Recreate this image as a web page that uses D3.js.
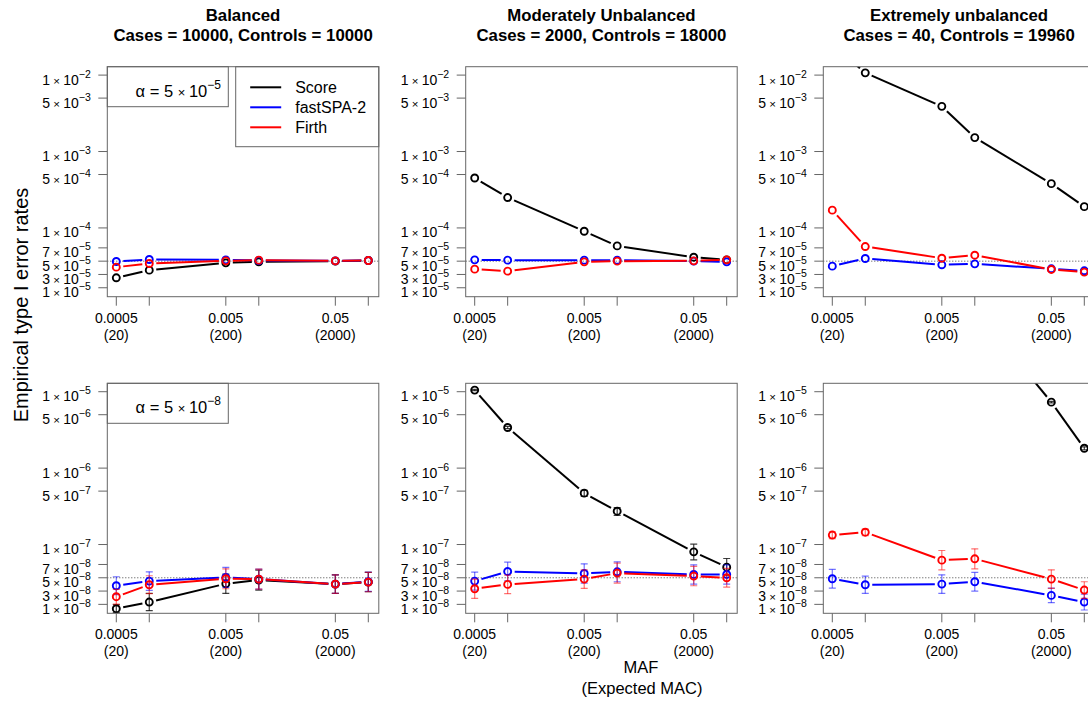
<!DOCTYPE html>
<html><head><meta charset="utf-8">
<script src="https://cdnjs.cloudflare.com/ajax/libs/d3/7.8.5/d3.min.js"></script>
<style>
html,body{margin:0;padding:0;background:#fff;}
text{font-family:"Liberation Sans",Arial,sans-serif;fill:#000;}
</style></head>
<body><svg id="chart" width="1088" height="702"></svg>
<script>
// ---------------- data ----------------
const maf = [0.0005, 0.001, 0.005, 0.01, 0.05, 0.1];
const mafLabels = ["0.0005", "", "0.005", "", "0.05", ""];
const macLabels = ["(20)", "", "(200)", "", "(2000)", ""];
const methods = ["Score", "fastSPA-2", "Firth"];
const methodColors = ["#000000", "#0000ff", "#ff0000"];
const errColors = ["rgba(0,0,0,0.75)", "rgba(0,0,255,0.55)", "rgba(255,0,0,0.55)"];
const titles = ["Balanced", "Moderately Unbalanced", "Extremely unbalanced"];
const subtitles = ["Cases = 10000, Controls = 10000", "Cases = 2000, Controls = 18000", "Cases = 40, Controls = 19960"];
const alphas = [5e-5, 5e-8];
const alphaExp = ["\u22125", "\u22128"];
const yTicksTop = [1e-2, 5e-3, 1e-3, 5e-4, 1e-4, 7e-5, 5e-5, 3e-5, 1e-5];
const yTicksBottom = [1e-5, 5e-6, 1e-6, 5e-7, 1e-7, 7e-8, 5e-8, 3e-8, 1e-8];

// alpha = 5e-5
const scoreBal5 = [2.5e-5, 3.65e-5, 4.75e-5, 4.9e-5, 5.0e-5, 5.1e-5];
const spaBal5   = [4.95e-5, 5.25e-5, 5.2e-5, 5.1e-5, 5.05e-5, 5.1e-5];
const firthBal5 = [4.1e-5, 4.65e-5, 5.05e-5, 5.15e-5, 5.05e-5, 5.1e-5];
const scoreMod5 = [4.5e-4, 2.5e-4, 9.5e-5, 7.3e-5, 5.6e-5, 5.2e-5];
const spaMod5   = [5.2e-5, 5.15e-5, 5.15e-5, 5.15e-5, 5.0e-5, 4.9e-5];
const firthMod5 = [3.8e-5, 3.5e-5, 4.9e-5, 5.0e-5, 5.05e-5, 5.2e-5];
const scoreExt5 = [2.5e-2, 1.07e-2, 3.9e-3, 1.52e-3, 3.8e-4, 1.9e-4];
const spaExt5   = [4.25e-5, 5.4e-5, 4.45e-5, 4.6e-5, 3.85e-5, 3.55e-5];
const firthExt5 = [1.71e-4, 7.2e-5, 5.45e-5, 5.9e-5, 3.75e-5, 3.35e-5];

// alpha = 5e-8
const scoreBal8 = [3.5e-9, 1.35e-8, 4.1e-8, 4.65e-8, 4.05e-8, 4.35e-8];
const spaBal8   = [3.8e-8, 4.5e-8, 5.05e-8, 4.8e-8, 4.05e-8, 4.4e-8];
const firthBal8 = [2.15e-8, 3.95e-8, 4.85e-8, 4.8e-8, 4.05e-8, 4.35e-8];
const scoreMod8 = [1.05e-5, 3.4e-6, 4.7e-7, 2.73e-7, 8.9e-8, 6.6e-8];
const spaMod8   = [4.5e-8, 5.95e-8, 5.65e-8, 5.9e-8, 5.5e-8, 5.5e-8];
const firthMod8 = [3.35e-8, 4.0e-8, 4.8e-8, 5.7e-8, 5.25e-8, 5.0e-8];
const scoreExt8 = [6e-4, 3.5e-4, 2e-4, 1.2e-4, 7.3e-6, 1.82e-6];
const spaExt8   = [4.85e-8, 3.95e-8, 4.05e-8, 4.4e-8, 2.35e-8, 1.35e-8];
const firthExt8 = [1.33e-7, 1.45e-7, 7.65e-8, 7.85e-8, 4.8e-8, 3.15e-8];

// error bar half-widths (alpha = 5e-8 row)
const errScoreBal8 = [0.6e-8, 1.3e-8, 1.45e-8, 1.5e-8, 1.4e-8, 1.45e-8];
const errSpaBal8   = [1.35e-8, 1.4e-8, 1.5e-8, 1.5e-8, 1.4e-8, 1.45e-8];
const errFirthBal8 = [1.1e-8, 1.35e-8, 1.5e-8, 1.5e-8, 1.4e-8, 1.45e-8];
const errScoreMod8 = [2.0e-7, 1.1e-7, 4.2e-8, 3.2e-8, 1.2e-8, 1.3e-8];
const errSpaMod8   = [1.35e-8, 1.4e-8, 1.45e-8, 1.5e-8, 1.45e-8, 1.45e-8];
const errFirthMod8 = [1.45e-8, 1.4e-8, 1.4e-8, 1.5e-8, 1.45e-8, 1.4e-8];
const errScoreExt8 = [1e-6, 8e-7, 5e-7, 4e-7, 1.7e-7, 8e-8];
const errSpaExt8   = [1.4e-8, 1.3e-8, 1.4e-8, 1.4e-8, 1.1e-8, 1.2e-8];
const errFirthExt8 = [1.4e-8, 1.4e-8, 1.45e-8, 1.5e-8, 1.4e-8, 1.25e-8];

const rowSeries = [
  [[scoreBal5, spaBal5, firthBal5], [scoreMod5, spaMod5, firthMod5], [scoreExt5, spaExt5, firthExt5]],
  [[scoreBal8, spaBal8, firthBal8], [scoreMod8, spaMod8, firthMod8], [scoreExt8, spaExt8, firthExt8]]
];
const rowErrors = [
  null,
  [[errScoreBal8, errSpaBal8, errFirthBal8], [errScoreMod8, errSpaMod8, errFirthMod8], [errScoreExt8, errSpaExt8, errFirthExt8]]
];

// ---------------- layout ----------------
const colLeft = [107.3, 465.7, 823.3];
const rowTop = [66.7, 383.3];
const boxW = 271.5, boxH = 230;
const K = 0.87;          // linear-part compression relative to one decade
const fTop = 2.11, fBottom = -0.9;

const svg = d3.select("#chart");
const defs = svg.append("defs");

function tf(v, T) { return v >= T ? Math.log10(v / T) : (v / T - 1) * K; }

rowSeries.forEach((panels, r) => {
  const alpha = alphas[r];
  const T = 2 * alpha;
  const ticks = r === 0 ? yTicksTop : yTicksBottom;
  panels.forEach((series, c) => {
    const x0 = colLeft[c], y0 = rowTop[r];
    const x = d3.scaleLog().domain([maf[0], maf[maf.length - 1]]).range([x0 + 9, x0 + boxW - 10.5]);
    const ys = d3.scaleLinear().domain([fBottom, fTop]).range([y0 + boxH, y0]);
    const y = v => ys(tf(v, T));
    const g = svg.append("g");
    const cid = `clip${r}${c}`;
    defs.append("clipPath").attr("id", cid).append("rect")
      .attr("x", x0).attr("y", y0).attr("width", boxW).attr("height", boxH);

    // y axis
    ticks.forEach(t => {
      const yy = y(t);
      g.append("line").attr("x1", x0 - 9).attr("x2", x0).attr("y1", yy).attr("y2", yy)
        .attr("stroke", "#666").attr("stroke-width", 1);
      const ex = Math.floor(Math.log10(t) + 1e-9);
      const mant = Math.round(t / Math.pow(10, ex));
      const tx = g.append("text").attr("x", x0 - 16.5).attr("y", yy + 9.5)
        .attr("text-anchor", "end").attr("font-size", 14);
      tx.append("tspan").text(mant);
      tx.append("tspan").attr("font-size", 11.5).text(" \u00d7 ");
      tx.append("tspan").text("10");
      tx.append("tspan").attr("font-size", 10.5).attr("dy", -7).text("\u2212" + Math.abs(ex));
    });
    // x axis
    maf.forEach((m, i) => {
      const xx = x(m);
      g.append("line").attr("x1", xx).attr("x2", xx).attr("y1", y0 + boxH).attr("y2", y0 + boxH + 9)
        .attr("stroke", "#666").attr("stroke-width", 1);
      if (mafLabels[i]) {
        g.append("text").attr("x", xx).attr("y", y0 + boxH + 26).attr("text-anchor", "middle")
          .attr("font-size", 14).text(mafLabels[i]);
        g.append("text").attr("x", xx).attr("y", y0 + boxH + 43).attr("text-anchor", "middle")
          .attr("font-size", 14).text(macLabels[i]);
      }
    });

    const plot = g.append("g").attr("clip-path", `url(#${cid})`);
    // alpha reference line
    plot.append("line").attr("x1", x0).attr("x2", x0 + boxW).attr("y1", y(alpha)).attr("y2", y(alpha))
      .attr("stroke", "#444").attr("stroke-width", 1).attr("stroke-dasharray", "1,2");

    series.forEach((vals, s) => {
      const pts = vals.map((v, i) => [x(maf[i]), y(v)]);
      // error bars
      if (rowErrors[r]) {
        const errs = rowErrors[r][c][s];
        vals.forEach((v, i) => {
          const xx = x(maf[i]);
          const lo = y(Math.max(v - errs[i], -0.03 * T)), hi = y(v + errs[i]);
          const eg = plot.append("g").attr("stroke", errColors[s]).attr("stroke-width", 1.2);
          eg.append("line").attr("x1", xx).attr("x2", xx).attr("y1", lo).attr("y2", hi);
          eg.append("line").attr("x1", xx - 3.5).attr("x2", xx + 3.5).attr("y1", lo).attr("y2", lo);
          eg.append("line").attr("x1", xx - 3.5).attr("x2", xx + 3.5).attr("y1", hi).attr("y2", hi);
        });
      }
      // line segments with gaps (type = "b")
      const gap = 7;
      for (let i = 0; i < pts.length - 1; i++) {
        const [ax, ay] = pts[i], [bx, by] = pts[i + 1];
        const d = Math.hypot(bx - ax, by - ay);
        if (d <= 2 * gap) continue;
        const ux = (bx - ax) / d, uy = (by - ay) / d;
        plot.append("line")
          .attr("x1", ax + ux * gap).attr("y1", ay + uy * gap)
          .attr("x2", bx - ux * gap).attr("y2", by - uy * gap)
          .attr("stroke", methodColors[s]).attr("stroke-width", 2);
      }
      plot.selectAll(null).data(pts).enter().append("circle")
        .attr("cx", d => d[0]).attr("cy", d => d[1]).attr("r", 3.5)
        .attr("fill", "none").attr("stroke", methodColors[s]).attr("stroke-width", 1.9);
    });

    // alpha label box (first column only)
    if (c === 0) {
      g.append("rect").attr("x", x0).attr("y", y0).attr("width", 121).attr("height", 40)
        .attr("fill", "#fff").attr("stroke", "#666").attr("stroke-width", 1);
      const at = g.append("text").attr("x", x0 + 71).attr("y", y0 + 30).attr("text-anchor", "middle")
        .attr("font-size", 16.5);
      at.append("tspan").text("\u03b1 = 5 ");
      at.append("tspan").attr("font-size", 13).text("\u00d7 ");
      at.append("tspan").text("10");
      at.append("tspan").attr("font-size", 12).attr("dy", -8).text(alphaExp[r]);
    }
    // legend
    if (r === 0 && c === 0) {
      const lx = x0 + 128.4, lw = boxW - 128.4;
      g.append("rect").attr("x", lx).attr("y", y0).attr("width", lw).attr("height", 80)
        .attr("fill", "#fff").attr("stroke", "#666").attr("stroke-width", 1);
      methods.forEach((m, k) => {
        const ly = y0 + 20.6 + k * 20;
        g.append("line").attr("x1", lx + 14.5).attr("x2", lx + 45.5).attr("y1", ly).attr("y2", ly)
          .attr("stroke", methodColors[k]).attr("stroke-width", 2);
        g.append("text").attr("x", lx + 59.5).attr("y", ly + 5.8).attr("font-size", 16).text(m);
      });
    }

    // frame
    g.append("rect").attr("x", x0).attr("y", y0).attr("width", boxW).attr("height", boxH)
      .attr("fill", "none").attr("stroke", "#666").attr("stroke-width", 1);

    // column titles
    if (r === 0) {
      g.append("text").attr("x", x0 + boxW / 2).attr("y", 21).attr("text-anchor", "middle")
        .attr("font-size", 16.8).attr("font-weight", "bold").text(titles[c]);
      g.append("text").attr("x", x0 + boxW / 2).attr("y", 41).attr("text-anchor", "middle")
        .attr("font-size", 16.8).attr("font-weight", "bold").text(subtitles[c]);
    }
  });
});

// axis titles
svg.append("text").attr("transform", "translate(28,305) rotate(-90)").attr("text-anchor", "middle")
  .attr("font-size", 20).text("Empirical type I error rates");
svg.append("text").attr("x", 641).attr("y", 673).attr("text-anchor", "middle").attr("font-size", 16.5).text("MAF");
svg.append("text").attr("x", 642).attr("y", 694).attr("text-anchor", "middle").attr("font-size", 16.5).text("(Expected MAC)");
</script></body></html>
